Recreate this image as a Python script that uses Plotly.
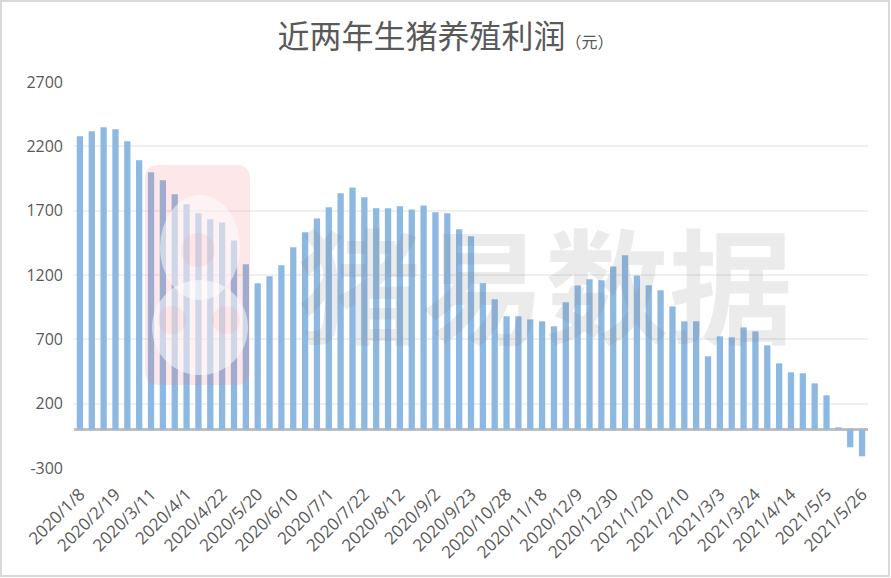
import plotly.graph_objects as go

# ---- data ----
dates = [
    "2020/1/8", "2020/1/15", "2020/2/12", "2020/2/19", "2020/2/26", "2020/3/4",
    "2020/3/11", "2020/3/18", "2020/3/25", "2020/4/1", "2020/4/8", "2020/4/15",
    "2020/4/22", "2020/4/29", "2020/5/13", "2020/5/20", "2020/5/27", "2020/6/3",
    "2020/6/10", "2020/6/17", "2020/6/24", "2020/7/1", "2020/7/8", "2020/7/15",
    "2020/7/22", "2020/7/29", "2020/8/5", "2020/8/12", "2020/8/19", "2020/8/26",
    "2020/9/2", "2020/9/9", "2020/9/16", "2020/9/23", "2020/10/14", "2020/10/21",
    "2020/10/28", "2020/11/4", "2020/11/11", "2020/11/18", "2020/11/25", "2020/12/2",
    "2020/12/9", "2020/12/16", "2020/12/23", "2020/12/30", "2021/1/6", "2021/1/13",
    "2021/1/20", "2021/1/27", "2021/2/3", "2021/2/10", "2021/2/17", "2021/2/24",
    "2021/3/3", "2021/3/10", "2021/3/17", "2021/3/24", "2021/3/31", "2021/4/7",
    "2021/4/14", "2021/4/21", "2021/4/28", "2021/5/5", "2021/5/12", "2021/5/19",
    "2021/5/26",
]
profit = [
    2278, 2317, 2348, 2332, 2239, 2091, 1998, 1936, 1827, 1749,
    1679, 1633, 1609, 1469, 1283, 1135, 1190, 1275, 1415, 1532,
    1640, 1726, 1835, 1881, 1804, 1718, 1718, 1734, 1710, 1741,
    1687, 1679, 1555, 1501, 1135, 1011, 879, 879, 855, 840,
    801, 988, 1120, 1166, 1159, 1267, 1353, 1197, 1120, 1081,
    956, 840, 840, 568, 723, 716, 793, 762, 653, 513,
    444, 436, 358, 265, 16, -139, -209,
]
y_ticks = [-300, 200, 700, 1200, 1700, 2200, 2700]
tick_labels = dates[::3]
title_text = "近两年生猪养殖利润"
unit_text = "（元）"
watermark = "猪易数据"

W, H = 891, 578
L, R, T, B = 74, 23, 82, 110
pw, ph = W - L - R, H - T - B


def px(x):
    return (x - L) / pw


def py(y):
    return (H - B - y) / ph


fig = go.Figure()
fig.add_trace(go.Bar(
    x=dates, y=profit,
    marker=dict(color="#8db8e2", line=dict(width=0)),
    hoverinfo="x+y",
))

grey = "#595959"
fig.update_layout(
    width=W, height=H,
    margin=dict(l=L, r=R, t=T, b=B),
    paper_bgcolor="white", plot_bgcolor="white",
    bargap=0.47,
    showlegend=False,
    font=dict(family="Open Sans, Noto Sans CJK SC", color=grey),
    title=dict(
        text=title_text + "<span style='font-size:16px'>" + unit_text + "</span>",
        x=0.5, xanchor="center", xref="container",
        y=1 - 37 / H, yanchor="middle",
        font=dict(family="Noto Sans CJK SC", size=32, color=grey),
    ),
    xaxis=dict(
        type="category",
        range=[-0.5, len(dates) - 0.5],
        tickmode="array", tickvals=tick_labels, ticktext=tick_labels,
        tickangle=-45,
        tickfont=dict(size=17, color=grey, family="Open Sans"),
        showgrid=False, showline=False, ticks="",
        ticklabelstandoff=12,
    ),
    yaxis=dict(
        range=[-300, 2700],
        tickmode="array", tickvals=y_ticks,
        ticktext=[str(v) for v in y_ticks],
        tickfont=dict(size=16, color=grey, family="Open Sans"),
        showgrid=True, gridcolor="#efefef", gridwidth=1.5,
        zeroline=True, zerolinecolor="#bfbfbf", zerolinewidth=2.5,
        showline=False, ticks="", ticklabelstandoff=10,
    ),
)

# watermark text
fig.add_annotation(
    text="<b>" + watermark + "</b>", xref="paper", yref="paper",
    x=px(545), y=py(280), xanchor="center", yanchor="middle",
    showarrow=False,
    font=dict(family="Noto Sans CJK SC", size=124, color="rgba(130,130,130,0.16)"),
)

# logo (approximate)
shapes = []
x0, x1, y0, y1, r = 145, 250, 165, 385, 14
path = (
    f"M {px(x0 + r)},{py(y0)} L {px(x1 - r)},{py(y0)} "
    f"Q {px(x1)},{py(y0)} {px(x1)},{py(y0 + r)} L {px(x1)},{py(y1 - r)} "
    f"Q {px(x1)},{py(y1)} {px(x1 - r)},{py(y1)} L {px(x0 + r)},{py(y1)} "
    f"Q {px(x0)},{py(y1)} {px(x0)},{py(y1 - r)} L {px(x0)},{py(y0 + r)} "
    f"Q {px(x0)},{py(y0)} {px(x0 + r)},{py(y0)} Z"
)
shapes.append(dict(type="path", path=path, xref="paper", yref="paper",
                   fillcolor="rgba(245,120,130,0.18)", line=dict(width=0), layer="above"))
shapes.append(dict(type="circle", xref="paper", yref="paper",
                   x0=px(160), x1=px(240), y0=py(195), y1=py(300),
                   fillcolor="rgba(255,255,255,0.5)", line=dict(width=0), layer="above"))
shapes.append(dict(type="circle", xref="paper", yref="paper",
                   x0=px(152), x1=px(248), y0=py(280), y1=py(375),
                   fillcolor="rgba(255,255,255,0.5)", line=dict(width=0), layer="above"))
for cx, cy, rr in [(198, 250, 17), (172, 320, 14), (226, 320, 14)]:
    shapes.append(dict(type="circle", xref="paper", yref="paper",
                       x0=px(cx - rr), x1=px(cx + rr), y0=py(cy - rr), y1=py(cy + rr),
                       fillcolor="rgba(245,120,130,0.1)", line=dict(width=0), layer="above"))

# outer frame
shapes.append(dict(type="rect", xref="paper", yref="paper",
                   x0=px(1), x1=px(889), y0=py(1), y1=py(576),
                   line=dict(color="#d9d9d9", width=2), fillcolor="rgba(0,0,0,0)",
                   layer="above"))
fig.update_layout(shapes=shapes)

fig.write_html("out.html")
